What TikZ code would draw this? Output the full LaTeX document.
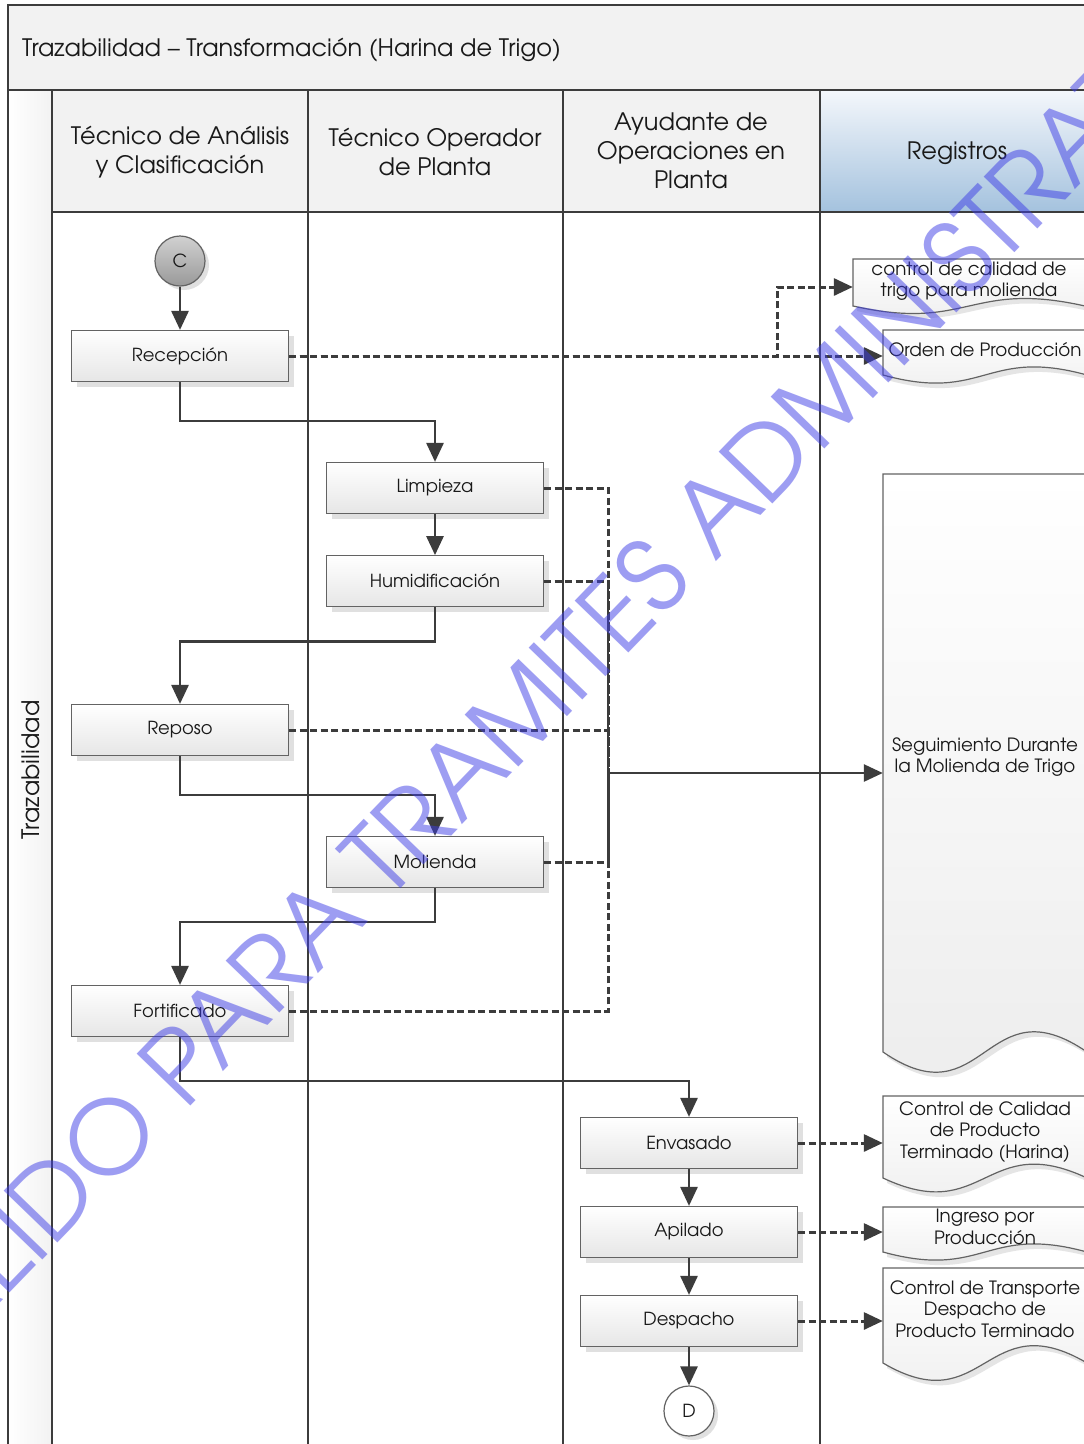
\documentclass[tikz,border=0pt]{standalone}
\usepackage{fontspec}
\setmainfont{TeX Gyre Adventor}
\usetikzlibrary{arrows.meta, positioning, shadows}

\definecolor{lanegray}{RGB}{242,242,242}
\definecolor{linegray}{RGB}{60,60,60}
\definecolor{boxgray}{RGB}{230,230,230}
\definecolor{docgray}{RGB}{236,236,236}
\definecolor{regtop}{RGB}{244,247,251}
\definecolor{regbot}{RGB}{164,194,222}
\definecolor{wmblue}{RGB}{60,60,230}

\begin{document}
\begin{tikzpicture}[x=1pt, y=-1pt,
    every node/.style={align=center, inner sep=0pt, text=black!90},
    bigtext/.style={font=\fontsize{24}{29}\selectfont},
    proc/.style={draw=linegray!80, line width=1.2pt, top color=white, bottom color=boxgray,
        minimum width=217pt, minimum height=51pt, font=\fontsize{18}{21}\selectfont,
        drop shadow={shadow xshift=5pt, shadow yshift=-5pt, fill=black!12, opacity=1}},
    conn/.style={circle, draw=linegray!80, line width=1.2pt, minimum size=50pt,
        font=\fontsize{18}{21}\selectfont,
        drop shadow={shadow xshift=4pt, shadow yshift=-4pt, fill=black!12, opacity=1}},
    doc/.style={minimum width=204pt, font=\fontsize{18.3}{21.5}\selectfont},
    lane/.style={draw=linegray, line width=2.5pt},
    flow/.style={draw=linegray, line width=2.7pt, -{Triangle[length=19pt,width=17pt]}},
    dashline/.style={draw=linegray, line width=3pt, dash pattern=on 7pt off 3.5pt},
    regline/.style={dashline, -{Triangle[length=19pt,width=17pt]}},
]
\useasboundingbox (0,0) rectangle (1084,1444);
\clip (0,0) rectangle (1084,1444);

% pool and lanes
\fill[white] (0,0) rectangle (1084,1444);
\fill[lanegray] (8,5) rectangle (1100,90);
\shade[left color=white, right color=lanegray] (8,90) rectangle (52,1450);
\fill[lanegray] (52,90) rectangle (820,212);
\shade[top color=regtop, bottom color=regbot] (820,90) rectangle (1100,212);
\draw[lane] (8,1450) -- (8,5) -- (1100,5);
\draw[lane] (8,90) -- (1100,90);
\draw[lane] (52,212) -- (1100,212);
\foreach \x in {52, 308, 563, 820}
    \draw[lane] (\x,90) -- (\x,1450);

\node[bigtext, anchor=west] (title) at (22,50) {Trazabilidad – Transformación (Harina de Trigo)};
\node[bigtext, rotate=90] (pool) at (31,770) {Trazabilidad};
\node[bigtext] (lane1) at (180,152) {Técnico de Análisis\\y Clasificación};
\node[bigtext] (lane2) at (435,152) {Técnico Operador\\de Planta};
\node[bigtext] (lane3) at (691,151) {Ayudante de\\Operaciones en\\Planta};
\node[bigtext] (lane4) at (957,153) {Registros};

% records (document shapes)
\foreach \l/\t/\w/\b/\a in {853/259/232/306/26, 883/330/204/375/28, 883/474/204/1052/70,
        883/1096/204/1178/48, 883/1207/204/1252/28, 883/1268/204/1363/60} {
    \fill[black!10, shift={(4pt,-5pt)}] (\l,\t) -- (\l+\w,\t) -- (\l+\w,\b)
        .. controls (\l+\w/2,\b-\a) and (\l+\w/2,\b+\a) .. (\l,\b) -- cycle;
    \draw[draw=linegray!80, line width=1.2pt, top color=white, bottom color=docgray]
        (\l,\t) -- (\l+\w,\t) -- (\l+\w,\b)
        .. controls (\l+\w/2,\b-\a) and (\l+\w/2,\b+\a) .. (\l,\b) -- cycle;
}
\node[doc, minimum width=232pt] (trigo) at (969,281) {control de calidad de\\trigo para molienda};
\node[doc] (orden) at (985,350) {Orden de Producción};
\node[doc] (segui) at (985,757) {Seguimiento Durante\\la Molienda de Trigo};
\node[doc] (ccpt) at (985,1132) {Control de Calidad\\de Producto\\Terminado (Harina)};
\node[doc] (ingreso) at (985,1227) {Ingreso por\\Producción};
\node[doc] (transp) at (985,1309) {Control de Transporte\\Despacho de\\Producto Terminado};

% activities
\node[conn, top color=black!18, bottom color=black!40] (c) at (180,261) {C};
\node[proc] (recep) at (180,356) {Recepción};
\node[proc] (limp) at (435,488) {Limpieza};
\node[proc, below=41pt of limp] (humid) {Humidificación};
\node[proc] (repo) at (180,730) {Reposo};
\node[proc] (mol) at (435,862) {Molienda};
\node[proc] (forti) at (180,1011) {Fortificado};
\node[proc] (envas) at (689,1143) {Envasado};
\node[proc] (apil) at (689,1232) {Apilado};
\node[proc] (desp) at (689,1321) {Despacho};
\node[conn, fill=white] (d) at (689,1411) {D};

\coordinate (jr) at (777,356);
\coordinate (jm) at (608,773);

% sequence flow
\draw[flow] (c) -- (recep);
\draw[flow] (recep.south) -- ++(0,39) -| (limp.north);
\draw[flow] (limp) -- (humid);
\draw[flow] (humid.south) -- ++(0,34) -| (repo.north);
\draw[flow] (repo.south) -- ++(0,39) -| (mol.north);
\draw[flow] (mol.south) -- ++(0,34) -| (forti.north);
\draw[flow] (forti.south) -- ++(0,44) -| (envas.north);
\draw[flow] (envas) -- (apil);
\draw[flow] (apil) -- (desp);
\draw[flow] (desp) -- (d);

% records flow
\draw[regline] (recep.east) -- (recep.east -| orden.west);
\draw[regline] (recep.east) -- (jr) |- ([yshift=-6pt]trigo.west);
\draw[dashline] (limp.east) -| (jm);
\draw[dashline] (humid.east) -| (jm);
\draw[dashline] (repo.east) -| (jm);
\draw[dashline] (mol.east) -| (jm);
\draw[dashline] (forti.east) -| (jm);
\draw[lane] (humid.east -| jm) -- (jm);
\draw[flow] (jm) -- (jm -| segui.west);
\draw[regline] (envas) -- (envas -| ccpt.west);
\draw[regline] (apil) -- (apil -| ingreso.west);
\draw[regline] (desp) -- (desp -| transp.west);

% watermark
\node[font=\fontsize{101}{101}\selectfont, text=wmblue, text opacity=0.5, rotate=46] (marca)
    at (583,646) {VALIDO PARA TRAMITES ADMINISTRATIVOS};
\end{tikzpicture}
\end{document}
